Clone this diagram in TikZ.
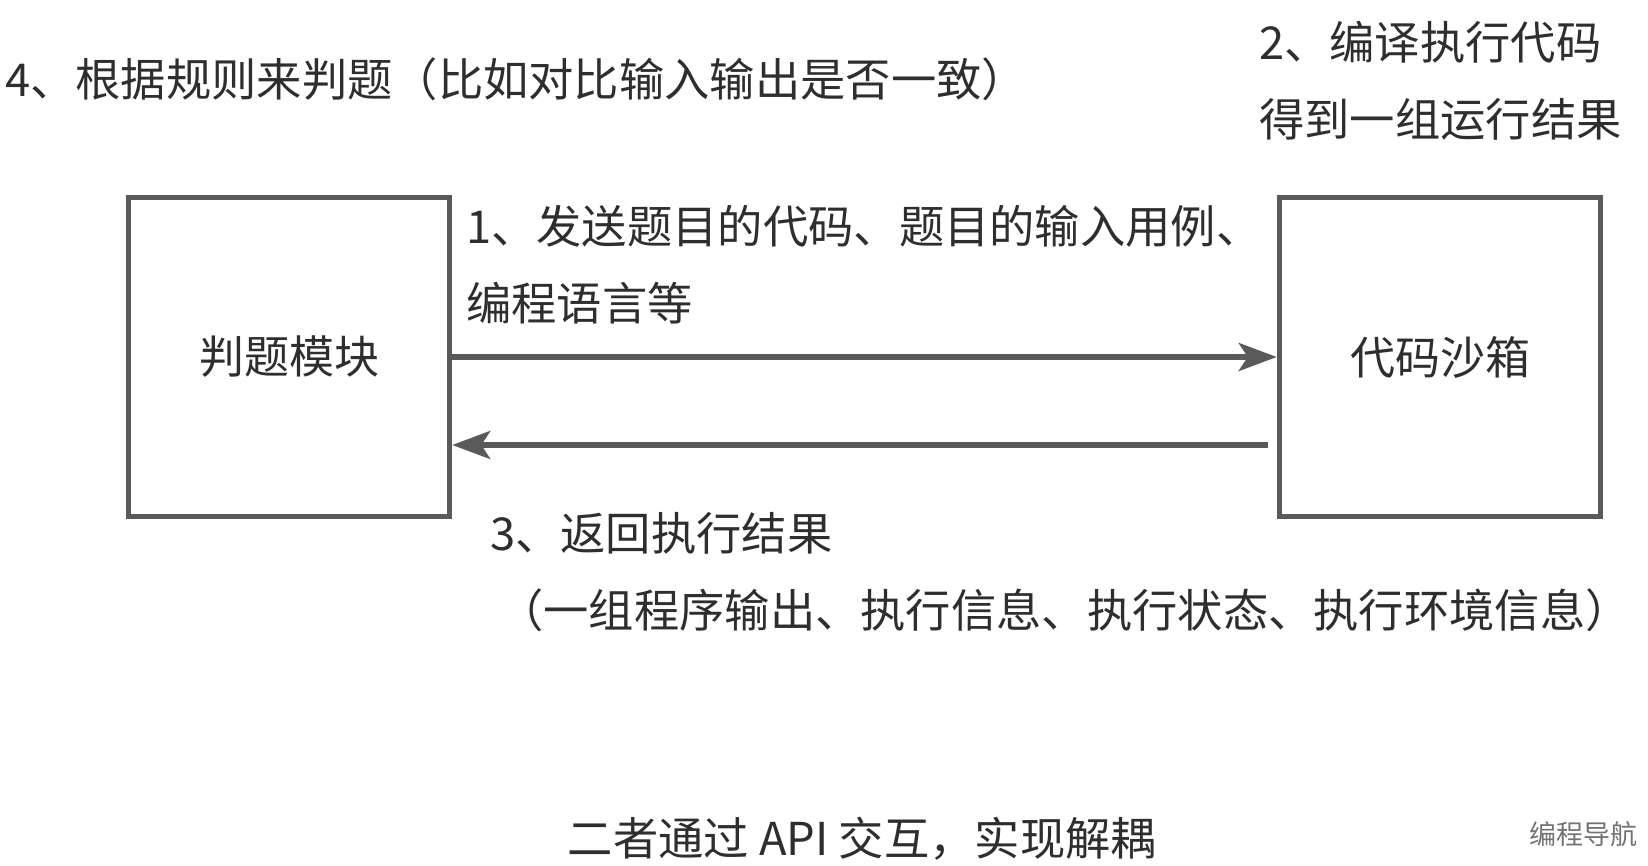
\documentclass[tikz,border=0pt]{standalone}
\usepackage{fontspec}
\setmainfont{Noto Sans CJK SC}
\usetikzlibrary{arrows.meta}
\definecolor{linegray}{HTML}{5A5A5A}
\definecolor{txtgray}{HTML}{2E2E2E}
\tikzset{
  box/.style={draw=linegray, line width=5.5pt, minimum width=321pt, minimum height=319pt, inner sep=0pt, font=\fontsize{45pt}{54pt}\selectfont, text=txtgray},
  lbl/.style={inner sep=0pt, anchor=west, font=\fontsize{45.3pt}{54pt}\selectfont, text=txtgray},
  conn/.style={draw=linegray, line width=5.5pt, -{Stealth[length=38pt,width=28pt,inset=9pt]}},
  wm/.style={inner sep=0pt, font=\fontsize{27pt}{30pt}\selectfont, text=black!55}
}
\begin{document}
\begin{tikzpicture}[x=1pt,y=-1pt]
\useasboundingbox (0,0) rectangle (1648,865);
\node[box] (judge) at (289,357) {判题模块};
\node[box] (sandbox) at (1440,357) {代码沙箱};
\coordinate (retstart) at (1268,445);
\draw[conn] (judge.east |- 0,357) -- (sandbox.west |- 0,357);
\draw[conn] (retstart) -- (judge.east |- retstart);
\node[lbl] (t4) at (5,79) {4、根据规则来判题（比如对比输入输出是否一致）};
\node[lbl] (t2a) at (1259,42) {2、编译执行代码};
\node[lbl] (t2b) at (1259,119) {得到一组运行结果};
\node[lbl] (t1a) at (466,226) {1、发送题目的代码、题目的输入用例、};
\node[lbl] (t1b) at (466,303) {编程语言等};
\node[lbl] (t3a) at (490,533) {3、返回执行结果};
\node[lbl] (t3b) at (498,610) {（一组程序输出、执行信息、执行状态、执行环境信息）};
\node[lbl, anchor=center] (bot) at (862,839) {二者通过 API 交互，实现解耦};
\node[wm, anchor=east] (wmk) at (1638,834) {编程导航};
\end{tikzpicture}
\end{document}
